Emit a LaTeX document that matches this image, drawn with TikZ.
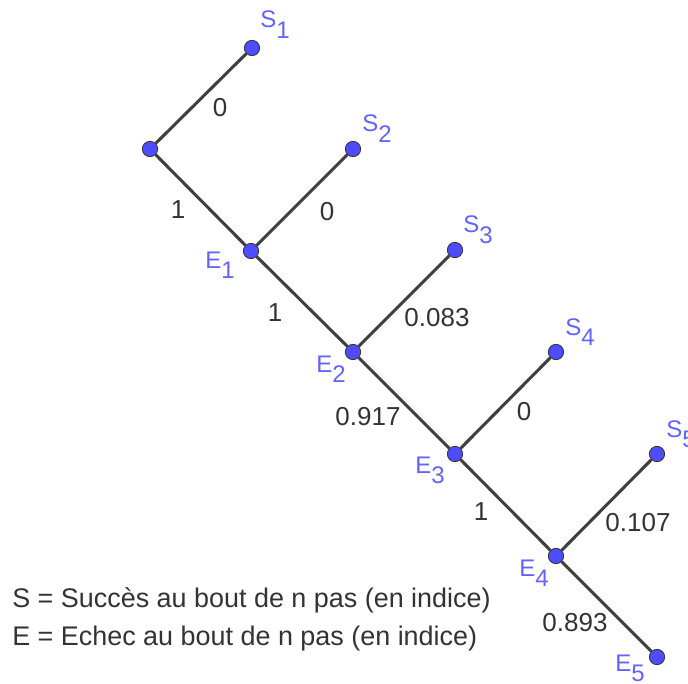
\documentclass[tikz,border=0pt]{standalone}
\usepackage{fontspec}
\setmainfont{Liberation Sans}
\definecolor{ptblue}{HTML}{4D4DFF}
\definecolor{lblblue}{HTML}{6262FF}
\definecolor{segcol}{HTML}{404040}
\definecolor{txtcol}{HTML}{333333}
\newcommand{\ptlab}[2]{#1\raisebox{-8pt}{#2}}
\begin{document}
\begin{tikzpicture}[x=0.75pt,y=-0.75pt,
  dot/.style={circle,fill=ptblue,draw=black!80,line width=0.6pt,minimum size=11.5pt,inner sep=0pt},
  segline/.style={draw=segcol,line width=2.3pt},
  ptlabel/.style={text=lblblue,font=\fontsize{18pt}{20pt}\selectfont,inner sep=0pt,anchor=base west},
  prob/.style={text=txtcol,font=\fontsize{19.5pt}{22pt}\selectfont,inner sep=0pt},
  legend/.style={text=txtcol,font=\fontsize{20.2pt}{24pt}\selectfont,inner sep=0pt,anchor=base west}]
\useasboundingbox (0,0) rectangle (688,684);
\clip (0,0) rectangle (688,684);
% points
\node[dot] (R)  at (150,149) {};
\node[dot] (S1) at (252,48) {};
\node[dot] (E1) at (251,251) {};
\node[dot] (S2) at (353,149) {};
\node[dot] (E2) at (353,352) {};
\node[dot] (S3) at (455,250) {};
\node[dot] (E3) at (455,454) {};
\node[dot] (S4) at (556,352) {};
\node[dot] (E4) at (556,556) {};
\node[dot] (S5) at (657,454) {};
\node[dot] (E5) at (657,657) {};
% segments
\draw[segline] (R) -- (S1);
\draw[segline] (R) -- (E1);
\draw[segline] (E1) -- (S2);
\draw[segline] (E1) -- (E2);
\draw[segline] (E2) -- (S3);
\draw[segline] (E2) -- (E3);
\draw[segline] (E3) -- (S4);
\draw[segline] (E3) -- (E4);
\draw[segline] (E4) -- (S5);
\draw[segline] (E4) -- (E5);
% point labels
\node[ptlabel] (lS1) at (260,28) {\ptlab{S}{1}};
\node[ptlabel] (lS2) at (362,132) {\ptlab{S}{2}};
\node[ptlabel] (lS3) at (463,233) {\ptlab{S}{3}};
\node[ptlabel] (lS4) at (565,335) {\ptlab{S}{4}};
\node[ptlabel] (lS5) at (666,437) {\ptlab{S}{5}};
\node[ptlabel] (lE1) at (205,268) {\ptlab{E}{1}};
\node[ptlabel] (lE2) at (316,372) {\ptlab{E}{2}};
\node[ptlabel] (lE3) at (415,473) {\ptlab{E}{3}};
\node[ptlabel] (lE4) at (519,576) {\ptlab{E}{4}};
\node[ptlabel] (lE5) at (615,671) {\ptlab{E}{5}};
% probabilities
\node[prob] (p1)  at (220,108) {0};
\node[prob] (p2)  at (178,210) {1};
\node[prob] (p3)  at (327,212) {0};
\node[prob] (p4)  at (275,313) {1};
\node[prob] (p5)  at (437,318) {0.083};
\node[prob] (p6)  at (368,417) {0.917};
\node[prob] (p7)  at (524,412) {0};
\node[prob] (p8)  at (481,512) {1};
\node[prob] (p9)  at (638,523) {0.107};
\node[prob] (p10) at (575,623) {0.893};
% legend
\node[legend] (leg1) at (12,607) {S = Succès au bout de n pas (en indice)};
\node[legend] (leg2) at (12,645) {E = Echec au bout de n pas (en indice)};
\end{tikzpicture}
\end{document}
